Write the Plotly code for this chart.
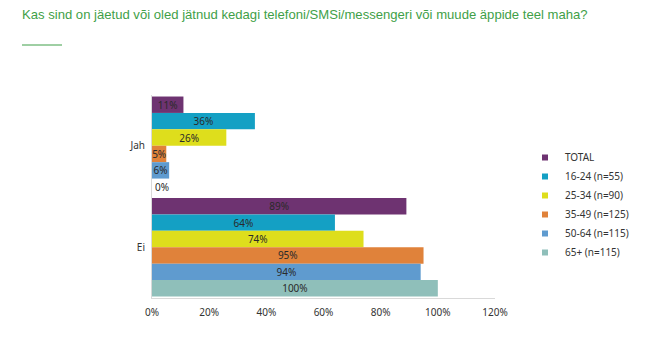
import plotly.graph_objects as go

categories = ["Jah", "Ei"]
series_names = ["TOTAL", "16-24 (n=55)", "25-34 (n=90)", "35-49 (n=125)", "50-64 (n=115)", "65+ (n=115)"]
values = [
    [11, 89],
    [36, 64],
    [26, 74],
    [5, 95],
    [6, 94],
    [0, 100],
]
colors = ["#6e3371", "#14a0c4", "#dede1c", "#e0823a", "#5f9bcf", "#8fbfba"]
tick_vals = [0, 20, 40, 60, 80, 100, 120]
tick_text = ["0%", "20%", "40%", "60%", "80%", "100%", "120%"]
title_text = "Kas sind on jäetud või oled jätnud kedagi telefoni/SMSi/messengeri või muude äppide teel maha?"

FONT = "Noto Sans"
fig = go.Figure()
for name, vals, col in zip(series_names, values, colors):
    fig.add_trace(go.Bar(
        y=categories, x=vals, name=name, orientation="h",
        marker=dict(color=col, line=dict(width=0)),
        text=[f"{v}%" for v in vals],
        textposition=["outside" if v == 0 else "inside" for v in vals],
        insidetextanchor="middle", textangle=0,
        textfont=dict(family=FONT, size=10, color="#2a2a2a"),
        outsidetextfont=dict(family=FONT, size=10, color="#2a2a2a"),
        cliponaxis=False, showlegend=False,
    ))
# legend-only entries with small square swatches
for name, col in zip(series_names, colors):
    fig.add_trace(go.Scatter(
        x=[None], y=[None], mode="markers", name=name,
        marker=dict(symbol="square", size=6, color=col), showlegend=True,
    ))

L, R, T, B = 152, 161, 95, 56
W, H = 656, 354
pw = W - L - R
ph = H - T - B

fig.update_layout(
    width=W, height=H,
    margin=dict(l=L, r=R, t=T, b=B),
    barmode="group", bargap=0.03, bargroupgap=0,
    plot_bgcolor="white", paper_bgcolor="white",
    uniformtext=dict(mode="show", minsize=10),
    font=dict(family=FONT, size=10, color="#333333"),
    showlegend=True,
    legend=dict(x=(525 - L) / pw, y=(H - B - 143) / ph, xanchor="left", yanchor="top",
                font=dict(family=FONT, size=10, color="#333333"),
                itemwidth=30, traceorder="normal", bgcolor="rgba(0,0,0,0)",
                tracegroupgap=0),
    xaxis=dict(range=[0, 120], tickvals=tick_vals, ticktext=tick_text, showgrid=False,
               zeroline=False, showline=True, linecolor="#d9d9d9", linewidth=1,
               ticks="", tickfont=dict(family=FONT, size=10, color="#333333"), ticklabelstandoff=5),
    yaxis=dict(autorange="reversed", showgrid=False, zeroline=False, showline=True,
               linecolor="#d9d9d9", linewidth=1, ticks="",
               tickfont=dict(family=FONT, size=10, color="#333333"), ticklabelstandoff=4),
    title=dict(text=title_text, x=22 / W, xanchor="left", y=1 - 14 / H, yanchor="middle",
               font=dict(family="Liberation Sans", size=13.1, color="#3f9f48")),
    shapes=[dict(type="line", xref="paper", yref="paper",
                 x0=(22 - L) / pw, x1=(62 - L) / pw,
                 y0=(H - B - 45) / ph, y1=(H - B - 45) / ph,
                 line=dict(color="#3f9f48", width=1))],
)

fig.write_html("out.html")
